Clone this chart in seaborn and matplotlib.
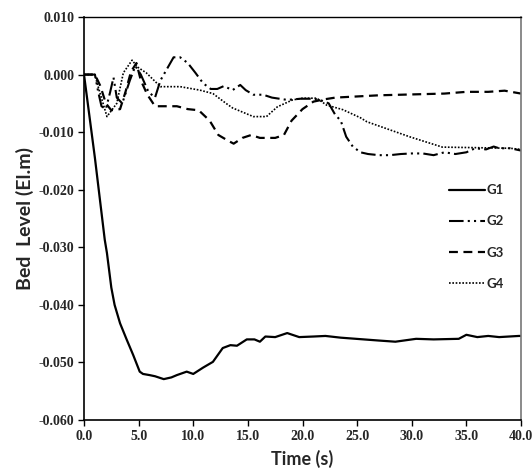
import numpy as np
import pandas as pd
import seaborn as sns
from matplotlib import pyplot as plt

# values (time in s, bed level in m)
t_g1 = [0.0, 1.0, 1.9, 2.1, 2.5, 2.8, 3.3, 3.9, 4.5, 5.1, 5.4, 6.0, 6.5, 7.3, 8.0, 8.5, 9.4, 10.0,
        10.9, 11.8, 12.7, 13.4, 14.0, 14.9, 15.6, 16.1, 16.6, 17.5, 18.6, 19.7, 21.0, 22.1, 23.5,
        24.9, 27.0, 28.5, 30.4, 32.0, 34.3, 35.0, 36.0, 37.0, 38.0, 39.8, 40.0]
g1 = [0.0, -0.0145, -0.0287, -0.031, -0.037, -0.040, -0.0432, -0.046, -0.0487, -0.0516, -0.052,
      -0.0522, -0.0524, -0.0529, -0.0526, -0.0522, -0.0516, -0.052, -0.0509, -0.0499, -0.0475,
      -0.047, -0.0471, -0.046, -0.046, -0.0464, -0.0455, -0.0456, -0.0449, -0.0456, -0.0455,
      -0.0454, -0.0457, -0.0459, -0.0462, -0.0464, -0.0459, -0.046, -0.0459, -0.0452, -0.0456,
      -0.0454, -0.0456, -0.0454, -0.0454]

t_g2 = [0.0, 1.0, 1.3, 1.6, 2.0, 2.4, 2.7, 3.0, 3.5, 4.2, 4.7, 5.2, 5.9, 6.5, 7.0, 7.6, 8.2, 8.8,
        9.5, 10.2, 10.9, 11.6, 12.2, 12.8, 13.6, 14.3, 14.8, 15.5, 16.4, 17.2, 18.6, 19.8, 21.0,
        21.6, 22.4, 23.0, 23.5, 24.0, 24.6, 25.3, 26.0, 27.0, 28.0, 29.0, 30.0, 31.0, 32.0, 33.0,
        34.0, 35.0, 35.8, 36.8, 37.5, 38.0, 39.0, 40.0]
g2 = [0.0, 0.0, -0.003, -0.0055, -0.006, -0.003, -0.0005, -0.004, -0.005, -0.001, 0.0015, 0.0,
      -0.003, -0.004, -0.001, 0.001, 0.003, 0.003, 0.002, 0.0003, -0.0015, -0.0025, -0.0025,
      -0.002, -0.0027, -0.0018, -0.0027, -0.0035, -0.0035, -0.004, -0.0044, -0.0042, -0.0042,
      -0.0044, -0.005, -0.007, -0.008, -0.0108, -0.0125, -0.0135, -0.0138, -0.014, -0.014,
      -0.0138, -0.0137, -0.0137, -0.014, -0.0135, -0.0138, -0.0135, -0.0128, -0.013, -0.0125,
      -0.0128, -0.0128, -0.0132]

t_g3 = [0.0, 1.0, 1.5, 2.0, 2.5, 3.3, 3.8, 4.3, 4.8, 5.2, 5.8, 6.5, 7.5, 8.5, 9.5, 10.5, 11.5,
        12.3, 13.2, 13.7, 14.5, 15.3, 16.1, 17.5, 18.3, 19.0, 20.0, 21.0, 22.0, 23.0, 25.0, 27.0,
        29.0, 31.0, 33.0, 35.0, 37.0, 38.5, 40.0]
g3 = [0.0, 0.0, -0.002, -0.005, -0.0062, -0.006, -0.003, 0.0005, 0.002, -0.001, -0.0035, -0.0055,
      -0.0055, -0.0055, -0.006, -0.0062, -0.008, -0.0105, -0.0115, -0.012, -0.011, -0.0105,
      -0.011, -0.011, -0.0105, -0.008, -0.006, -0.0047, -0.0043, -0.004, -0.0038, -0.0036,
      -0.0035, -0.0034, -0.0033, -0.003, -0.003, -0.0028, -0.0033]

t_g4 = [0.0, 1.0, 1.2, 2.1, 3.0, 3.6, 4.4, 4.9, 5.7, 7.0, 8.8, 10.6, 11.8, 13.0, 13.6, 15.5,
        16.7, 17.7, 19.1, 20.0, 21.3, 22.2, 23.7, 25.3, 25.9, 27.1, 29.8, 32.8, 36.0, 39.0, 40.0]
g4 = [0.0, 0.0, -0.0015, -0.0073, -0.005, 0.0003, 0.0025, 0.0013, 0.0003, -0.0021, -0.0021,
      -0.0027, -0.0033, -0.005, -0.0058, -0.0073, -0.0073, -0.0056, -0.0044, -0.0041, -0.0041,
      -0.0053, -0.0061, -0.0075, -0.0082, -0.009, -0.0108, -0.0126, -0.0127, -0.0128, -0.013]

series_names = ['G1', 'G2', 'G3', 'G4']
x_ticks = [0, 5, 10, 15, 20, 25, 30, 35, 40]
y_ticks = [-0.06, -0.05, -0.04, -0.03, -0.02, -0.01, 0.0, 0.01]

sns.set_style('white')
plt.rcParams['font.family'] = ['Liberation Serif', 'DejaVu Serif']

fig = plt.figure(figsize=(5.32, 4.73), dpi=100)
ax = fig.add_axes([84 / 532, 1 - 420 / 473, 437 / 532, 403 / 473])

styles = {
    'G1': dict(linestyle='-', linewidth=1.6),
    'G2': dict(linestyle=(0, (7, 2, 1, 2, 1, 2)), linewidth=1.5),
    'G3': dict(linestyle=(0, (4, 2.5)), linewidth=1.6),
    'G4': dict(linestyle=(0, (1, 1)), linewidth=1.2),
}
for name, t, v in zip(series_names, [t_g1, t_g2, t_g3, t_g4], [g1, g2, g3, g4]):
    d = pd.DataFrame({'Time': t, 'Level': v})
    sns.lineplot(data=d, x='Time', y='Level', ax=ax, color='black', label=name, **styles[name])

ax.set_xlim(0, 40)
ax.set_ylim(-0.06, 0.01)
ax.set_xticks(x_ticks)
ax.set_xticklabels(['{:.1f}'.format(x) for x in x_ticks])
ax.set_yticks(y_ticks)
ax.set_yticklabels(['{:.3f}'.format(y) for y in y_ticks])
for lab in ax.get_xticklabels() + ax.get_yticklabels():
    lab.set_fontweight('bold')
    lab.set_fontsize(10)
ax.tick_params(axis='both', direction='out', length=4, width=1, color='black', pad=3,
               bottom=True, left=True)

for side in ['left', 'bottom', 'top']:
    ax.spines[side].set_color('black')
    ax.spines[side].set_linewidth(1.2)
ax.spines['top'].set_linewidth(1.0)
ax.spines['right'].set_color('#777777')
ax.spines['right'].set_linewidth(1.2)

ax.set_xlabel('Time (s)', fontsize=13, fontweight='bold', family=['Lato', 'DejaVu Sans'], labelpad=5)
ax.set_ylabel('Bed  Level (El.m)', fontsize=14, fontweight='bold', family=['Lato', 'DejaVu Sans'], labelpad=3)

ax.legend(loc='upper left', bbox_to_anchor=(0.835, 0.585), frameon=False,
          prop={'family': ['Lato', 'DejaVu Sans'], 'weight': 'bold', 'size': 9.5},
          handlelength=2.7, handletextpad=0.15, labelspacing=1.45, borderpad=0, borderaxespad=0)

plt.savefig('out.png', dpi=100)
